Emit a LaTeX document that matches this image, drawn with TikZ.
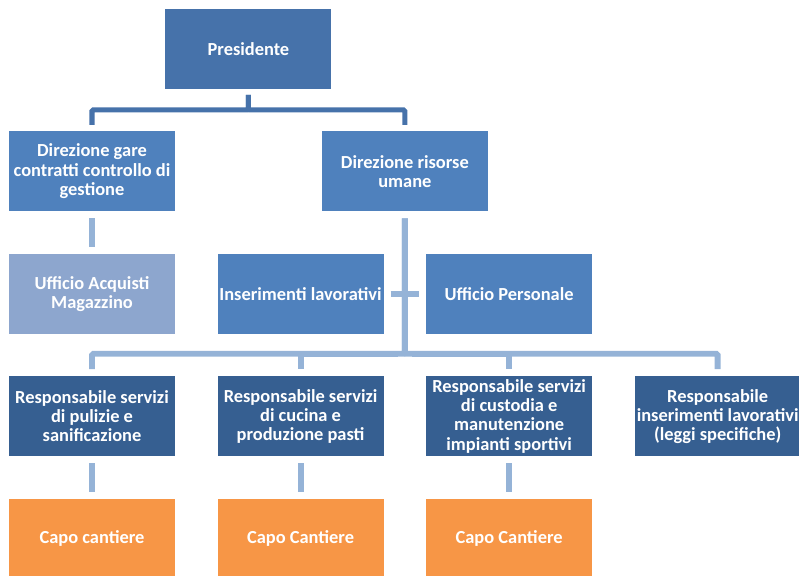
\documentclass[tikz,border=0pt]{standalone}
\usepackage{fontspec}
\setmainfont{Carlito}
\usepackage{tikz}
\usepackage{xcolor}
\usetikzlibrary{positioning, calc}
\definecolor{cPres}{RGB}{70,114,170}
\definecolor{cDir}{RGB}{79,129,189}
\definecolor{cUff}{RGB}{141,166,206}
\definecolor{cResp}{RGB}{54,95,145}
\definecolor{cCapo}{RGB}{247,150,70}
\definecolor{cLink}{RGB}{149,179,215}
\tikzset{
	% org chart styles
	blk/.style  ={rectangle, draw=none, minimum width=4.15cm, minimum height=2cm, inner sep=0.5pt, align=center, text=white, fill=cDir},
	sig/.style  ={line width=4.2pt, cLink, shorten <=0.17cm, shorten >=0.17cm},
	sigtop/.style={line width=3.6pt, cPres, shorten <=0.15cm, shorten >=0.15cm, rounded corners=1pt},
}
\begin{document}
\begin{tikzpicture}[font=\bfseries\fontsize{13.1}{13.6}\selectfont, node distance=1.05cm]
	\useasboundingbox (0,0) rectangle (19.975,-14.375);
	\node[blk] (dg) at (2.3,-4.28) {Direzione gare\\ contratti controllo di\\ gestione};
	\node[blk, below=of dg, fill=cUff] (ua) {Ufficio Acquisti\\ Magazzino};
	\node[blk, below=of ua, fill=cResp] (r1) {Responsabile servizi\\ di pulizie e\\ sanificazione};
	\node[blk, right=of r1, fill=cResp] (r2) {Responsabile servizi\\ di cucina e\\ produzione pasti};
	\node[blk, right=of r2, fill=cResp] (r3) {Responsabile servizi\\ di custodia e\\ manutenzione\\ impianti sportivi};
	\node[blk, right=of r3, fill=cResp] (r4) {Responsabile\\ inserimenti lavorativi\\ (leggi specifiche)};
	\node[blk, below=of r1, fill=cCapo] (c1) {Capo cantiere};
	\node[blk, below=of r2, fill=cCapo] (c2) {Capo Cantiere};
	\node[blk, below=of r3, fill=cCapo] (c3) {Capo Cantiere};
	\node[blk, above=of r2] (il) {Inserimenti lavorativi};
	\node[blk, above=of r3] (up) {Ufficio Personale};
	\coordinate (m1) at ($(il.north)!0.5!(up.north)$);
	\node[blk, above=of m1] (dr) {Direzione risorse\\ umane};
	\coordinate (m0) at ($(dg.north)!0.5!(dr.north)$);
	\node[blk, above=of m0, fill=cPres] (pr) {Presidente};
	% links
	\coordinate (top) at ($(pr.south)!0.5!(m0)$);
	\coordinate (bar) at ($(il.south)!0.47!(r2.north)$);
	\draw[sigtop] (pr.south) -- (top) -| (dg.north);
	\draw[sigtop] (pr.south) -- (top) -| (dr.north);
	\draw[sig] (dg) -- (ua);
	\draw[sig] (il) -- (up);
	\draw[sig, rounded corners=1pt] (dr.south) -- (dr.south |- bar) -| (r1.north);
	\draw[sig, rounded corners=1pt] (dr.south) -- (dr.south |- bar) -| (r4.north);
	\draw[sig] (dr.south |- bar) -| (r2.north);
	\draw[sig] (dr.south |- bar) -| (r3.north);
	\draw[sig] (r1) -- (c1); \draw[sig] (r2) -- (c2); \draw[sig] (r3) -- (c3);
\end{tikzpicture}
\end{document}
